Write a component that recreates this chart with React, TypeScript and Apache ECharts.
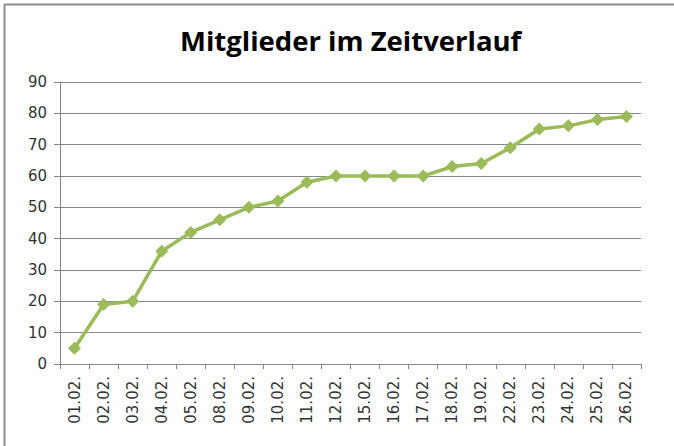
import React, { useEffect, useRef } from "react";
import * as echarts from "echarts";

const categories = ["01.02.", "02.02.", "03.02.", "04.02.", "05.02.", "08.02.", "09.02.", "10.02.", "11.02.", "12.02.", "15.02.", "16.02.", "17.02.", "18.02.", "19.02.", "22.02.", "23.02.", "24.02.", "25.02.", "26.02."];
const members = [5, 19, 20, 36, 42, 46, 50, 52, 58, 60, 60, 60, 60, 63, 64, 69, 75, 76, 78, 79];
const titleText = "Mitglieder im Zeitverlauf";

export default function App() {
  const ref = useRef<HTMLDivElement>(null);
  useEffect(() => {
    const chart = echarts.init(ref.current!, null, { renderer: "svg" });
    chart.setOption({
      animation: false,
      backgroundColor: "#ffffff",
      title: {
        text: titleText,
        left: 175,
        top: 21,
        textStyle: { fontFamily: "Open Sans", fontWeight: "bold", fontSize: 27.5, color: "#000000" },
      },
      graphic: [
        { type: "line", shape: { x1: 4, y1: 4.5, x2: 674, y2: 4.5 }, style: { stroke: "#8c8c8c", lineWidth: 2 } },
        { type: "line", shape: { x1: 4.5, y1: 4, x2: 4.5, y2: 446 }, style: { stroke: "#8c8c8c", lineWidth: 2 } },
      ],
      grid: { left: 60, right: 33, top: 82, bottom: 82 },
      xAxis: {
        type: "category",
        data: categories,
        boundaryGap: true,
        axisLine: { lineStyle: { color: "#868686", width: 1 } },
        axisTick: { show: true, length: 5, lineStyle: { color: "#868686" } },
        axisLabel: { rotate: 90, margin: 12, fontSize: 15, fontFamily: "DejaVu Sans", color: "#333333" },
      },
      yAxis: {
        type: "value",
        min: 0,
        max: 90,
        interval: 10,
        axisLine: { show: true, lineStyle: { color: "#868686", width: 1 } },
        axisTick: { show: true, length: 6, lineStyle: { color: "#868686" } },
        splitLine: { lineStyle: { color: "#868686", width: 1 } },
        axisLabel: { fontSize: 15, margin: 13, fontFamily: "DejaVu Sans", color: "#333333" },
      },
      series: [
        {
          type: "line",
          data: members,
          symbol: "diamond",
          symbolSize: 13,
          lineStyle: { color: "#9BBB59", width: 3.5 },
          itemStyle: { color: "#9BBB59" },
        },
      ],
    });
    return () => chart.dispose();
  }, []);
  return <div ref={ref} style={{ position: "fixed", left: 0, top: 0, width: 674, height: 446 }} />;
}
